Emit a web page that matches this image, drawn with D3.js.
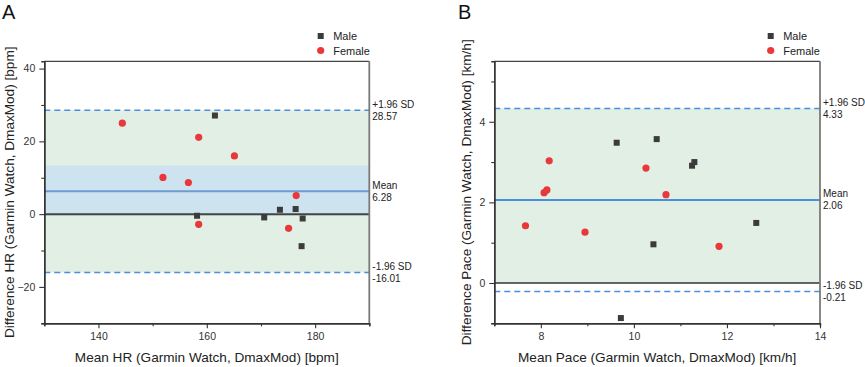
<!DOCTYPE html>
<html><head><meta charset="utf-8">
<script src="https://cdn.jsdelivr.net/npm/d3@7"></script>
<style>body{margin:0;background:#fff}svg{display:block;font-family:"Liberation Sans",Arial,sans-serif}</style>
</head><body><svg id="c" width="865" height="367"></svg>
<script>
// Panel A: HR
const hrMaleX = [158.2, 161.5, 170.6, 173.5, 176.4, 177.7, 177.5];
const hrMaleY = [-0.45, 27.1, -0.9, 1.2, 1.4, -1.2, -8.8];
const hrFemaleX = [144.4, 151.9, 156.6, 158.5, 158.5, 165.1, 176.5, 175.1];
const hrFemaleY = [25.0, 10.1, 8.7, 21.1, -2.8, 16.0, 5.1, -3.9];
const hrStats = {upper: 28.57, mean: 6.28, lower: -16.01, ciLow: -0.4, ciHigh: 13.4};
const hrXTicks = [140, 160, 180], hrXMinor = [130, 150, 170, 190];
const hrYTicks = [-20, 0, 20, 40], hrYMinor = [-30, -10, 10, 30];
// Panel B: Pace
const paceMaleX = [9.63, 10.49, 10.42, 9.72, 11.25, 11.30, 12.63];
const paceMaleY = [3.48, 3.57, 0.96, -0.87, 2.91, 3.0, 1.49];
const paceFemaleX = [7.67, 8.07, 8.13, 8.18, 8.95, 10.26, 10.69, 11.83];
const paceFemaleY = [1.42, 2.24, 2.31, 3.03, 1.26, 2.85, 2.19, 0.91];
const paceStats = {upper: 4.33, mean: 2.06, lower: -0.21};
const paceXTicks = [8, 10, 12, 14], paceXMinor = [7, 9, 11, 13];
const paceYTicks = [0, 2, 4], paceYMinor = [-1, 1, 3, 5];
const legendLabels = ["Male", "Female"];

const svg = d3.select("#c");
const green = "#e2efe5", blue = "#cde3ef", dashC = "#4a8fdb", red = "#e8383a", dark = "#3b3b3b";
const fmt = d3.format("d");

function panel(o) {
  const {x0, x1, y0, y1} = o;
  const x = d3.scaleLinear().domain(o.xDom).range([x0, x1]);
  const y = d3.scaleLinear().domain(o.yDom).range([y1, y0]);
  const g = svg.append("g");
  g.append("rect").attr("x", x0).attr("width", x1 - x0)
    .attr("y", y(o.green[1])).attr("height", y(o.green[0]) - y(o.green[1])).attr("fill", green);
  if (o.blue) g.append("rect").attr("x", x0).attr("width", x1 - x0)
    .attr("y", y(o.blue[1])).attr("height", y(o.blue[0]) - y(o.blue[1])).attr("fill", blue);
  const hl = (v, c, w, dash) => g.append("line").attr("x1", x0).attr("x2", x1)
    .attr("y1", y(v)).attr("y2", y(v)).attr("stroke", c).attr("stroke-width", w)
    .attr("stroke-dasharray", dash || null);
  hl(o.stats.upper, dashC, 1.5, "6,4");
  hl(o.stats.lower, dashC, 1.5, "6,4");
  hl(0, o.zeroC, o.zeroW);
  hl(o.stats.mean, o.meanC, 2);
  const lab = (v, t1, t2) => {
    const t = g.append("text").attr("x", x1 + 3).attr("font-size", 10).attr("fill", "#222");
    t.append("tspan").attr("x", x1 + 3).attr("y", y(v) - 2.5).text(t1);
    t.append("tspan").attr("x", x1 + 3).attr("y", y(v) + 9.5).text(t2);
  };
  lab(o.stats.upper, "+1.96 SD", o.stats.upper.toFixed(2));
  lab(o.stats.mean, "Mean", o.stats.mean.toFixed(2));
  lab(o.stats.lower, "-1.96 SD", o.stats.lower.toFixed(2));
  g.append("line").attr("x1", x0).attr("x2", x1).attr("y1", y0).attr("y2", y0).attr("stroke", "#444").attr("stroke-width", 1.2);
  g.append("line").attr("x1", x1).attr("x2", x1).attr("y1", y0).attr("y2", y1).attr("stroke", "#7a7a7a").attr("stroke-width", 1.8);
  const styleAx = a => { a.select(".domain").attr("stroke", "#333").attr("stroke-width", 1.4);
    a.selectAll(".tick line").attr("stroke", "#333").attr("stroke-width", 1.1);
    a.selectAll("text").attr("font-size", 10.5).attr("fill", "#333").attr("font-family", "Liberation Sans, Arial, sans-serif"); };
  g.append("g").attr("transform", `translate(0,${y1})`).call(d3.axisBottom(x).tickValues(o.xMinor).tickSize(3).tickFormat("")).call(styleAx);
  g.append("g").attr("transform", `translate(0,${y1})`).call(d3.axisBottom(x).tickValues(o.xTicks).tickFormat(fmt).tickSize(5).tickPadding(4).tickSizeOuter(0)).call(styleAx);
  g.append("g").attr("transform", `translate(${x0},0)`).call(d3.axisLeft(y).tickValues(o.yMinor).tickSize(3).tickFormat("")).call(styleAx);
  g.append("g").attr("transform", `translate(${x0},0)`).call(d3.axisLeft(y).tickValues(o.yTicks).tickFormat(fmt).tickSize(5).tickPadding(4).tickSizeOuter(0)).call(styleAx);
  g.selectAll(".m").data(o.mx.map((v, i) => [v, o.my[i]])).join("rect")
    .attr("x", d => x(d[0]) - 3).attr("y", d => y(d[1]) - 3).attr("width", 6).attr("height", 6).attr("fill", dark);
  g.selectAll(".f").data(o.fx.map((v, i) => [v, o.fy[i]])).join("circle")
    .attr("cx", d => x(d[0])).attr("cy", d => y(d[1])).attr("r", 3.6).attr("fill", red);
  g.append("text").attr("x", (x0 + x1) / 2).attr("y", 362).attr("text-anchor", "middle")
    .attr("font-size", 13.6).attr("fill", "#222").text(o.xTitle);
  g.append("text").attr("transform", `translate(${o.yTitleX},${(y0 + y1) / 2}) rotate(-90)`)
    .attr("text-anchor", "middle").attr("dominant-baseline", "central")
    .attr("font-size", 13.6).attr("fill", "#222").text(o.yTitle);
  g.append("text").attr("x", o.letterX).attr("y", 18.5).attr("font-size", 20).attr("fill", "#111").text(o.letter);
  const lx = o.legX;
  g.append("rect").attr("x", lx - 3).attr("y", 36 - 3).attr("width", 6).attr("height", 6).attr("fill", dark);
  g.append("circle").attr("cx", lx).attr("cy", 50.5).attr("r", 3.6).attr("fill", red);
  g.append("text").attr("x", lx + 12.5).attr("y", 36).attr("dominant-baseline", "central").attr("font-size", 11).attr("fill", "#222").text(legendLabels[0]);
  g.append("text").attr("x", lx + 12.5).attr("y", 50.5).attr("dominant-baseline", "central").attr("font-size", 11).attr("fill", "#222").text(legendLabels[1]);
}

panel({x0: 44.3, x1: 369.3, y0: 61.3, y1: 323.3, xDom: [130, 190], yDom: [-30, 42],
  green: [hrStats.lower, hrStats.upper], blue: [hrStats.ciLow, hrStats.ciHigh], stats: hrStats,
  zeroC: "#444", zeroW: 2, meanC: "#6b9bd1",
  xTicks: hrXTicks, xMinor: hrXMinor, yTicks: hrYTicks, yMinor: hrYMinor,
  mx: hrMaleX, my: hrMaleY, fx: hrFemaleX, fy: hrFemaleY,
  xTitle: "Mean HR (Garmin Watch, DmaxMod) [bpm]", yTitle: "Difference HR (Garmin Watch, DmaxMod) [bpm]",
  yTitleX: 9.5, letter: "A", letterX: 2, legX: 320.7});

panel({x0: 494.3, x1: 820, y0: 61.3, y1: 323.3, xDom: [7, 14], yDom: [-1, 5.5],
  green: [0, paceStats.upper], blue: null, stats: paceStats,
  zeroC: "#333", zeroW: 1.5, meanC: "#4a8fdb",
  xTicks: paceXTicks, xMinor: paceXMinor, yTicks: paceYTicks, yMinor: paceYMinor,
  mx: paceMaleX, my: paceMaleY, fx: paceFemaleX, fy: paceFemaleY,
  xTitle: "Mean Pace (Garmin Watch, DmaxMod) [km/h]", yTitle: "Difference Pace (Garmin Watch, DmaxMod) [km/h]",
  yTitleX: 466.5, letter: "B", letterX: 458, legX: 770.7});
</script></body></html>
